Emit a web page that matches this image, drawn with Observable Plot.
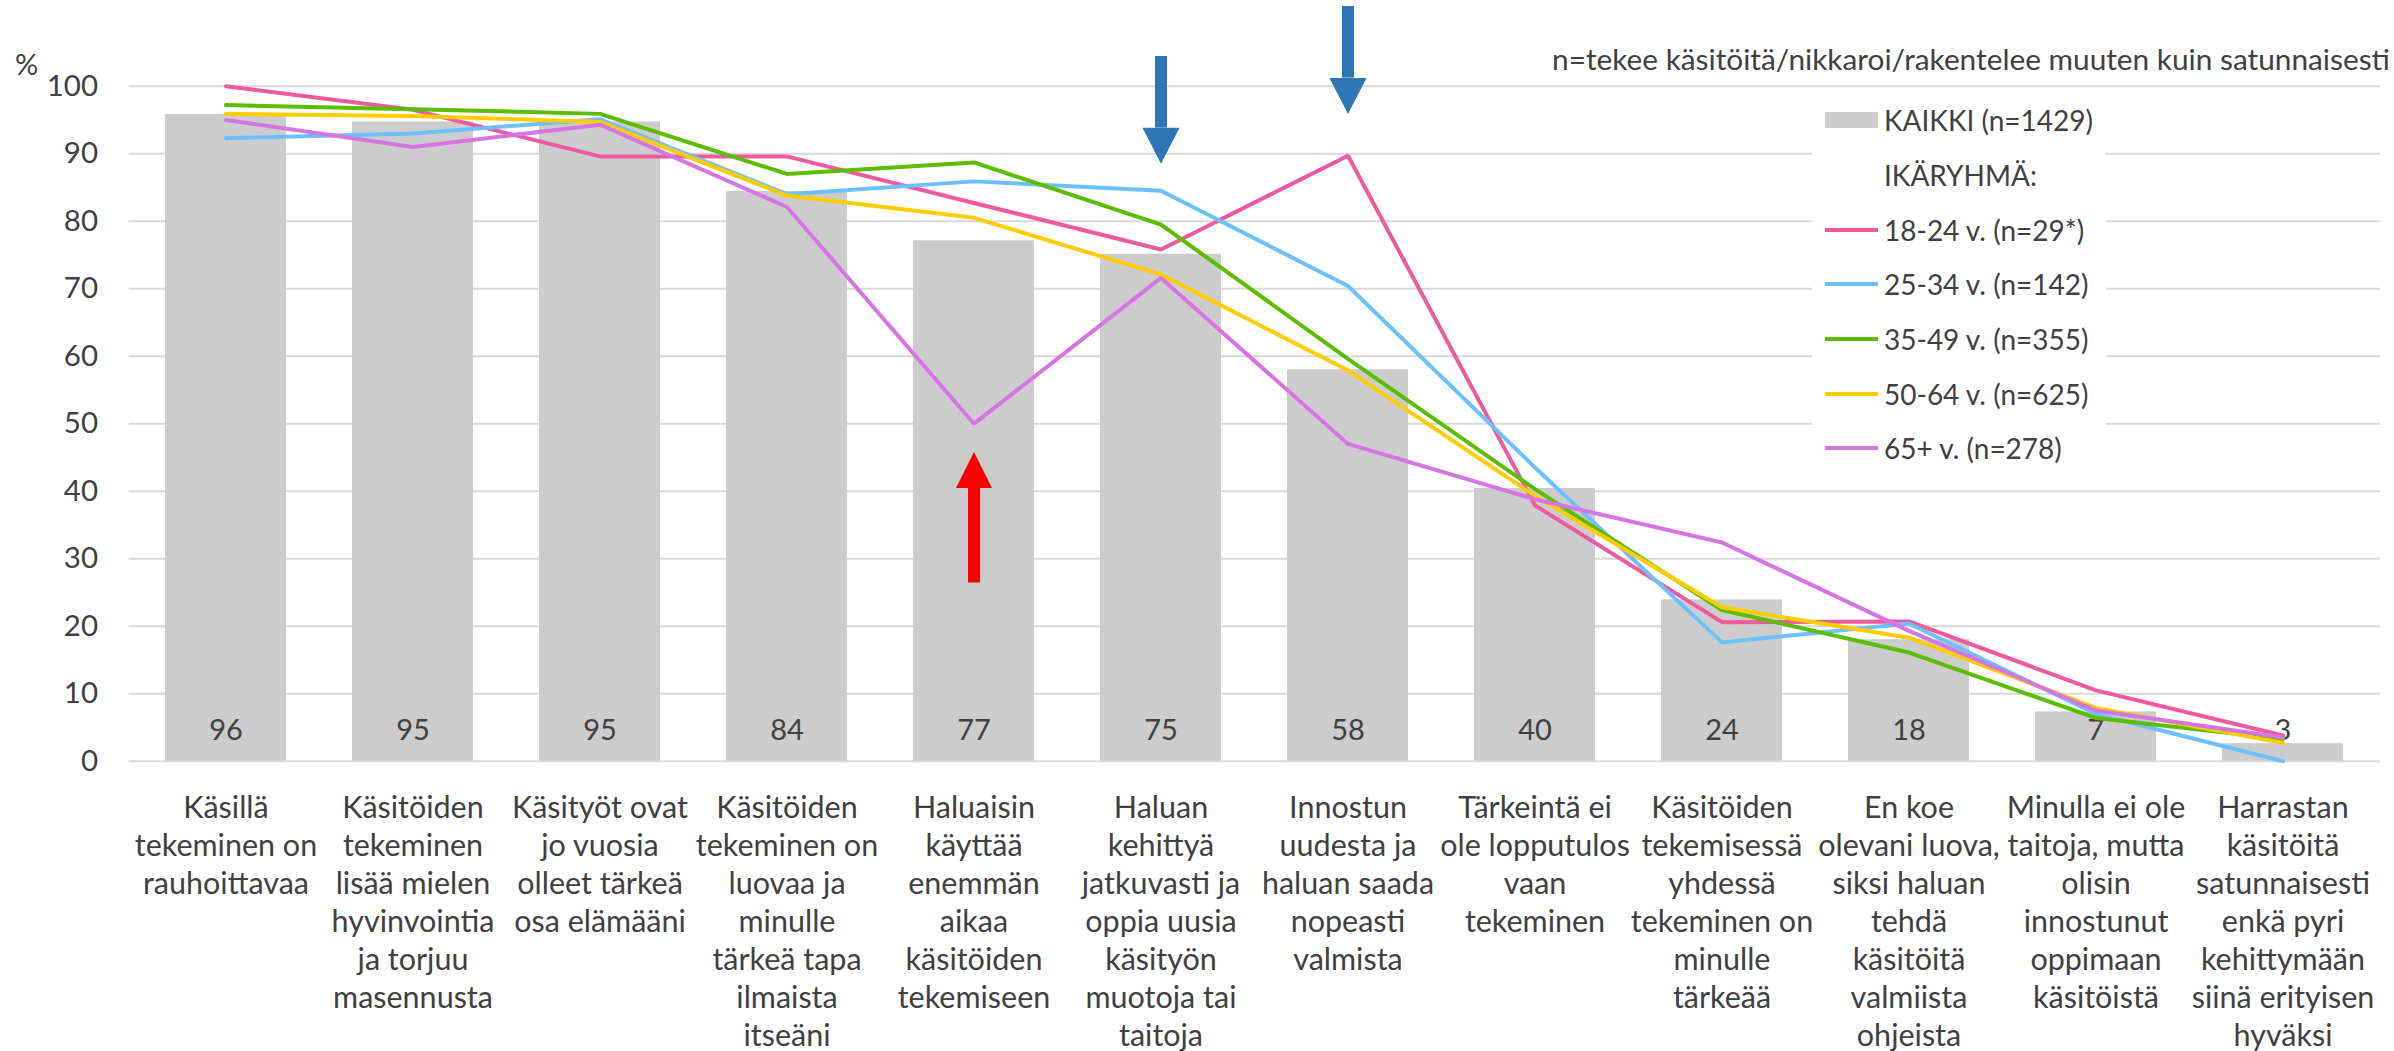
<!DOCTYPE html>
<html><head><meta charset="utf-8">
<script src="https://cdn.jsdelivr.net/npm/d3@7"></script>
<script src="https://cdn.jsdelivr.net/npm/@observablehq/plot@0.6"></script>
<style>
html,body{margin:0;padding:0;background:#fff;overflow:hidden;}
#wrap{position:relative;width:2394px;height:1051px;font-family:Lato,"Open Sans",sans-serif;color:#404040;}
#chart svg{display:block;}
#note{position:absolute;left:1552px;top:41px;font-size:29.8px;white-space:nowrap;line-height:36px;}
#legend{position:absolute;left:1812px;top:93px;width:294px;background:#fff;}
.row{height:54.7px;display:flex;align-items:center;font-size:28px;white-space:nowrap;}
.sw{width:53px;margin-left:13px;margin-right:6px;flex:none;}
</style></head><body>
<div id="wrap"><div id="chart"></div><div id="note"></div><div id="legend"></div></div>
<script>
const categories = [
  "Käsillä\ntekeminen on\nrauhoittavaa",
  "Käsitöiden\ntekeminen\nlisää mielen\nhyvinvointia\nja torjuu\nmasennusta",
  "Käsityöt ovat\njo vuosia\nolleet tärkeä\nosa elämääni",
  "Käsitöiden\ntekeminen on\nluovaa ja\nminulle\ntärkeä tapa\nilmaista\nitseäni",
  "Haluaisin\nkäyttää\nenemmän\naikaa\nkäsitöiden\ntekemiseen",
  "Haluan\nkehittyä\njatkuvasti ja\noppia uusia\nkäsityön\nmuotoja tai\ntaitoja",
  "Innostun\nuudesta ja\nhaluan saada\nnopeasti\nvalmista",
  "Tärkeintä ei\nole lopputulos\nvaan\ntekeminen",
  "Käsitöiden\ntekemisessä\nyhdessä\ntekeminen on\nminulle\ntärkeää",
  "En koe\nolevani luova,\nsiksi haluan\ntehdä\nkäsitöitä\nvalmiista\nohjeista",
  "Minulla ei ole\ntaitoja, mutta\nolisin\ninnostunut\noppimaan\nkäsitöistä",
  "Harrastan\nkäsitöitä\nsatunnaisesti\nenkä pyri\nkehittymään\nsiinä erityisen\nhyväksi"
];
const kaikki   = [95.8, 94.7, 94.7, 84.4, 77.1, 75.1, 58.0, 40.4, 23.9, 18.0, 7.3, 2.6];
const age18_24 = [100, 96.5, 89.6, 89.6, 82.7, 75.8, 89.7, 37.9, 20.6, 20.7, 10.5, 3.8];
const age25_34 = [92.3, 93.0, 95.1, 84.0, 85.9, 84.5, 70.4, 43.5, 17.6, 20.4, 7.0, 0.0];
const age35_49 = [97.2, 96.6, 95.9, 87.0, 88.7, 79.5, 59.6, 40.3, 22.4, 16.1, 6.4, 3.3];
const age50_64 = [95.9, 95.6, 94.7, 83.8, 80.5, 72.1, 57.9, 39.3, 22.8, 18.3, 7.9, 2.7];
const age65    = [95.0, 91.0, 94.3, 82.1, 50.0, 71.6, 47.0, 38.8, 32.4, 19.3, 7.5, 3.5];
const seriesNames  = ["18-24 v. (n=29*)", "25-34 v. (n=142)", "35-49 v. (n=355)", "50-64 v. (n=625)", "65+ v. (n=278)"];
const seriesValues = [age18_24, age25_34, age35_49, age50_64, age65];
const seriesColors = ["#ee5a9c", "#6cc0ff", "#5cbd00", "#ffcc00", "#d575e2"];
const kaikkiName = "KAIKKI (n=1429)";
const groupLabel = "IKÄRYHMÄ:";
const note = "n=tekee käsitöitä/nikkaroi/rakentelee muuten kuin satunnaisesti";
const yTicks = [0, 10, 20, 30, 40, 50, 60, 70, 80, 90, 100];
// annotation arrows (category index, tail, head base, tip, colour)
const arrowCat   = [5, 6, 4];
const arrowTail  = [104.4, 111.8, 26.4];
const arrowBase  = [93.8, 101.2, 40.5];
const arrowTip   = [88.5, 95.9, 45.8];
const arrowColor = ["#2e75b6", "#2e75b6", "#ff0000"];

const bars = categories.map((c, i) => ({cat: c, value: kaikki[i]}));
const lines = [];
seriesNames.forEach((s, k) => categories.forEach((c, i) => lines.push({cat: c, value: seriesValues[k][i], series: s, color: seriesColors[k]})));
const arrows = arrowCat.map((ci, i) => ({cat: categories[ci], tail: arrowTail[i], base: arrowBase[i], tip: arrowTip[i], color: arrowColor[i], up: arrowTip[i] > arrowTail[i]}));

const headDown = {draw(ctx) { ctx.moveTo(-18.5, -36); ctx.lineTo(18.5, -36); ctx.lineTo(0, 0); ctx.closePath(); }};
const headUp = {draw(ctx) { ctx.moveTo(-18, 36); ctx.lineTo(18, 36); ctx.lineTo(0, 0); ctx.closePath(); }};

const chart = Plot.plot({
  width: 2394,
  height: 1051,
  marginLeft: 128.6,
  marginRight: 14,
  marginTop: 85.7,
  marginBottom: 290.3,
  style: {fontFamily: "Lato, 'Open Sans', sans-serif", background: "#fff", color: "#404040", overflow: "visible"},
  x: {domain: categories, type: "band", paddingInner: 0.355, paddingOuter: 0.1775},
  y: {domain: [0, 100]},
  marks: [
    Plot.gridY(yTicks, {stroke: "#d9d9d9", strokeOpacity: 1, strokeWidth: 2}),
    Plot.barY(bars, {x: "cat", y: "value", fill: "#cccccc"}),
    Plot.text(bars, {x: "cat", y: 0, text: d => Math.round(d.value), dy: -30, fontSize: 29, fill: "#404040"}),
    Plot.lineY(lines, {x: "cat", y: "value", z: "series", stroke: "color", strokeWidth: 4, strokeLinejoin: "miter"}),
    Plot.ruleX(arrows, {x: "cat", y1: "tail", y2: "base", stroke: "color", strokeWidth: 12}),
    Plot.dot(arrows.filter(d => !d.up), {x: "cat", y: "tip", fill: "color", symbol: headDown}),
    Plot.dot(arrows.filter(d => d.up), {x: "cat", y: "tip", fill: "color", symbol: headUp}),
    Plot.axisY(yTicks, {tickSize: 0, tickPadding: 31, fontSize: 29.5, label: null, fill: "#404040"}),
    Plot.axisX({tickSize: 0, tickPadding: 30, fontSize: 30.5, lineHeight: 38 / 30.5, label: null, fill: "#404040"}),
    Plot.text(["%"], {frameAnchor: "top-left", dx: -114, dy: -32, fontSize: 29, fill: "#404040"})
  ]
});
document.getElementById("chart").appendChild(chart);
document.getElementById("note").textContent = note;

const legend = document.getElementById("legend");
function row(swatchHtml, label) {
  const r = document.createElement("div");
  r.className = "row";
  r.innerHTML = `<div class="sw">${swatchHtml}</div><span></span>`;
  r.querySelector("span").textContent = label;
  legend.appendChild(r);
}
row(`<div style="height:16px;background:#cccccc"></div>`, kaikkiName);
row(``, groupLabel);
seriesNames.forEach((s, k) => row(`<div style="height:4px;background:${seriesColors[k]}"></div>`, s));
</script>
</body></html>
